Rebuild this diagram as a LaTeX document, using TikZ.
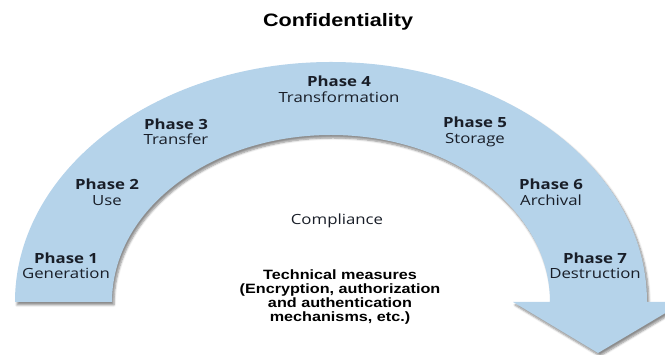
\documentclass[tikz,border=0pt]{standalone}
\usepackage{fontspec}
\setmainfont{Liberation Sans}
\newfontfamily\phasefont{Open Sans}
\usetikzlibrary{shadows.blur}
\definecolor{archblue}{RGB}{181,211,234}
\definecolor{labelink}{RGB}{25,30,40}

\begin{document}
\begin{tikzpicture}[x=1pt, y=1pt,
    phase/.style={align=center, xscale=1.2, text=labelink, font=\phasefont\fontsize{14}{15.5}\selectfont},
    note/.style={align=center, xscale=1.2, font=\bfseries\fontsize{13.5}{14}\selectfont}]

        \useasboundingbox (0,0) rectangle (665,355);
        \clip (0,0) rectangle (665,355);

        % Arch ending in the arrow head
        \fill[archblue, blur shadow={shadow xshift=2pt, shadow yshift=-3pt, shadow opacity=45, shadow blur steps=6}]
            (15,53) arc[start angle=180, end angle=0, x radius=316pt, y radius=240pt]
            -- (684,53) -- (598,2) -- (513,53) -- (550,53)
            arc[start angle=0, end angle=180, x radius=219pt, y radius=167pt] -- cycle;

        % Title
        \node[note, font=\bfseries\fontsize{18}{20}\selectfont] (title) at (338,333) {Confidentiality};

        % Phases along the arch
        \node[phase] (ph1) at (66,89) {\textbf{Phase 1}\\Generation};
        \node[phase] (ph2) at (107,162.5) {\textbf{Phase 2}\\Use};
        \node[phase] (ph3) at (176,223) {\textbf{Phase 3}\\Transfer};
        \node[phase] (ph4) at (339,265.5) {\textbf{Phase 4}\\Transformation};
        \node[phase] (ph5) at (475,223) {\textbf{Phase 5}\\Storage};
        \node[phase] (ph6) at (551,162.5) {\textbf{Phase 6}\\Archival};
        \node[phase] (ph7) at (595,89) {\textbf{Phase 7}\\Destruction};

        % Inside the arch
        \node[phase] (comp) at (337,134) {Compliance};
        \node[note] (tech) at (340,58) {Technical measures\\(Encryption, authorization\\and authentication\\mechanisms, etc.)};

\end{tikzpicture}
\end{document}
